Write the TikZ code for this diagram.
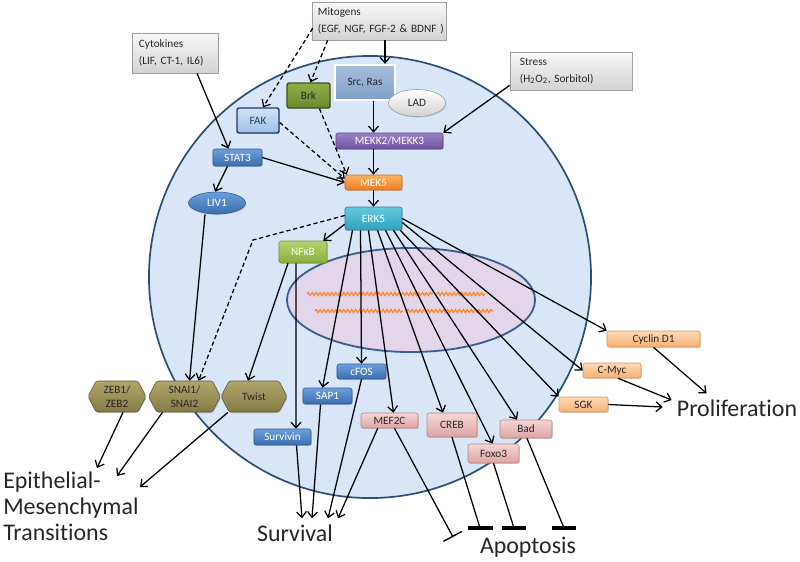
\documentclass[tikz,border=0pt]{standalone}
\usepackage{fontspec}
\setmainfont{Carlito}[Ligatures=NoCommon]
\usetikzlibrary{arrows.meta,calc,positioning,shapes.geometric,shapes.symbols,shadows,decorations.pathmorphing}

% colours of the cell
\definecolor{cellin}{HTML}{D8E6F7}
\definecolor{cellout}{HTML}{98B5DE}
\definecolor{cellrim}{HTML}{2C4D75}
\definecolor{nucfill}{HTML}{E4D6EA}
\definecolor{nucrim}{HTML}{3A5F8C}
\definecolor{wave}{HTML}{F58A2E}
% colours of the boxes
\definecolor{blueT}{HTML}{6E9FDB}\definecolor{blueB}{HTML}{3A6CB0}\definecolor{blueD}{HTML}{2E5A93}
\definecolor{oraT}{HTML}{FBB264}\definecolor{oraB}{HTML}{EC7D22}\definecolor{oraD}{HTML}{D06A14}
\definecolor{tealT}{HTML}{66C8DE}\definecolor{tealB}{HTML}{2FA1BE}\definecolor{tealD}{HTML}{2387A0}
\definecolor{purT}{HTML}{9C82C2}\definecolor{purB}{HTML}{7050A0}\definecolor{purD}{HTML}{5B3F88}
\definecolor{grnT}{HTML}{B4D46E}\definecolor{grnB}{HTML}{89AE3F}\definecolor{grnD}{HTML}{73952F}
\definecolor{brkT}{HTML}{8FAE48}\definecolor{brkB}{HTML}{6A892D}\definecolor{brkD}{HTML}{3F5220}
\definecolor{fakT}{HTML}{D2E3F5}\definecolor{fakB}{HTML}{9DBFE6}\definecolor{fakD}{HTML}{1F3B63}
\definecolor{srcT}{HTML}{A7BEDC}\definecolor{srcB}{HTML}{809FC8}
\definecolor{pinkT}{HTML}{F5D6D5}\definecolor{pinkB}{HTML}{DDA4A2}\definecolor{pinkD}{HTML}{B88583}
\definecolor{peachT}{HTML}{FDDAB8}\definecolor{peachB}{HTML}{F6B074}\definecolor{peachD}{HTML}{D99552}
\definecolor{hexT}{HTML}{B0A66C}\definecolor{hexB}{HTML}{847A44}\definecolor{hexD}{HTML}{5E5630}
\definecolor{grayT}{HTML}{F8F8F8}\definecolor{grayB}{HTML}{D2D2D2}\definecolor{grayD}{HTML}{9E9E9E}
\definecolor{ink}{HTML}{262626}

\pgfdeclareradialshading{cellshade}{\pgfpoint{0bp}{0bp}}{color(0bp)=(cellin); color(39bp)=(cellin); color(50bp)=(cellout)}

\tikzset{
  arr/.style={line width=0.9pt, -{Straight Barb[length=4pt,width=7pt]}},
  darr/.style={arr, dash pattern=on 3pt off 2pt},
  plain/.style={line width=0.9pt},
  barend/.style={line width=2.6pt},
  inhthin/.style={line width=0.9pt, -{Bar[width=15pt,line width=1pt]}},
  box/.style={rounded corners=1.5pt, inner sep=0pt, font=\fontsize{8}{9.6}\selectfont,
    drop shadow={opacity=0.3,shadow xshift=0.6pt,shadow yshift=-0.7pt}},
  bluebox/.style={box, top color=blueT, bottom color=blueB, draw=blueD, text=white},
  orabox/.style={box, top color=oraT, bottom color=oraB, draw=oraD, text=white},
  tealbox/.style={box, top color=tealT, bottom color=tealB, draw=tealD, text=white},
  purbox/.style={box, top color=purT, bottom color=purB, draw=purD, text=white},
  grnbox/.style={box, top color=grnT, bottom color=grnB, draw=grnD, text=white},
  brkbox/.style={box, top color=brkT, bottom color=brkB, draw=brkD, line width=1pt, text=ink},
  fakbox/.style={box, top color=fakT, bottom color=fakB, draw=fakD, line width=1pt, text=fakD},
  srcbox/.style={box, rounded corners=0pt, top color=srcT, bottom color=srcB, draw=white, line width=1.6pt, text=ink},
  pinkbox/.style={box, top color=pinkT, bottom color=pinkB, draw=pinkD, text=ink},
  peachbox/.style={box, top color=peachT, bottom color=peachB, draw=peachD, text=ink},
  hexbox/.style={box, shape=signal, signal to=west and east, signal pointer angle=125,
    top color=hexT, bottom color=hexB, draw=hexD, align=center, text=ink, minimum height=0.775cm},
  graybox/.style={rectangle, inner sep=0pt, top color=grayT, bottom color=grayB, draw=grayD,
    align=left, text=ink, font=\fontsize{8}{12}\selectfont,
    drop shadow={opacity=0.35,shadow xshift=1pt,shadow yshift=-1pt}},
  bigtext/.style={inner sep=0pt, text=ink, font=\fontsize{17}{18.4}\selectfont},
  dna/.style={wave, line width=0.9pt, decorate, decoration={snake, amplitude=1.1pt, segment length=2.8pt}}
}

\begin{document}
\begin{tikzpicture}[x=0.025cm, y=-0.025cm]
  \useasboundingbox (0,0) rectangle (800,561);

  % Draw the cell, the nucleus and its DNA
  \shadedraw[shading=cellshade, draw=cellrim, line width=1.2pt] (370,277) circle [radius=5.525cm];
  \draw[fill=nucfill, draw=nucrim, line width=1.3pt] (411,300) ellipse [x radius=3.1cm, y radius=1.3cm];
  \draw[dna] (307,294) -- (433,294);
  \draw[dna] (437,294) -- (485,294);
  \draw[dna] (315,311) -- (403,311);
  \draw[dna] (407,311) -- (493,311);

  % Signals from outside
  \node[graybox, minimum width=3.35cm, minimum height=0.95cm, text width=3.05cm] (mitogens) at (379,21) {Mitogens\\\mbox{(EGF, NGF, FGF-2 \& BDNF )}};
  \node[graybox, minimum width=2.15cm, minimum height=1cm, text width=1.8cm] (cytokines) at (175,53) {Cytokines\\(LIF, CT-1, IL6)};
  \node[graybox, minimum width=3.05cm, minimum height=0.95cm, text width=2.55cm] (stress) at (571,71) {Stress\\(H\textsubscript{2}O\textsubscript{2}, Sorbitol)};

  % Kinases in the cytoplasm
  \node[srcbox, minimum width=1.5cm, minimum height=0.875cm] (srcras) at (365,82.5) {Src, Ras};
  \node[box, ellipse, top color=white, bottom color=grayB, draw=grayD, text=ink, minimum width=1.425cm, minimum height=0.675cm] (lad) at (417,103) {LAD};
  \node[brkbox, minimum width=1.075cm, minimum height=0.625cm] (brk) at (308.5,95.5) {Brk};
  \node[fakbox, minimum width=1.05cm, minimum height=0.625cm] (fak) at (258,120.5) {FAK};
  \node[bluebox, minimum width=1.225cm, minimum height=0.425cm] (stat) at (237.5,157.5) {STAT3};
  \node[bluebox, ellipse, minimum width=1.425cm, minimum height=0.55cm] (liv) at (217,203) {LIV1};
  \node[purbox, minimum width=2.675cm, minimum height=0.4cm] (mekk) at (389.5,141) {MEKK2/MEKK3};
  \node[orabox, minimum width=1.425cm, minimum height=0.375cm] (mek) at (373.5,182.5) {MEK5};
  \node[tealbox, minimum width=1.425cm, minimum height=0.575cm] (erk) at (373.5,218.5) {ERK5};
  \node[grnbox, minimum width=1.2cm, minimum height=0.55cm] (nfkb) at (303,252) {NFκB};

  % Transcription factors and targets
  \node[hexbox, minimum width=1.45cm] (zeb) at (117,396.5) {ZEB1/\\ZEB2};
  \node[hexbox, minimum width=1.8cm] (snai) at (184.5,396.5) {SNAI1/\\SNAI2};
  \node[hexbox, minimum width=1.65cm] (twist) at (254,396.5) {Twist};
  \node[bluebox, minimum width=1.425cm, minimum height=0.4cm] (survivin) at (282.5,437) {Survivin};
  \node[bluebox, minimum width=1.225cm, minimum height=0.4cm] (sap) at (327.5,396) {SAP1};
  \node[bluebox, minimum width=1.225cm, minimum height=0.375cm] (cfos) at (361.5,371.5) {cFOS};
  \node[pinkbox, minimum width=1.425cm, minimum height=0.375cm] (mef) at (389.5,420.5) {MEF2C};
  \node[pinkbox, minimum width=1.25cm, minimum height=0.6cm] (creb) at (452,425) {CREB};
  \node[pinkbox, minimum width=1.3cm, minimum height=0.45cm] (bad) at (526,429) {Bad};
  \node[pinkbox, minimum width=1.275cm, minimum height=0.475cm] (foxo) at (493.5,453.5) {Foxo3};
  \node[peachbox, minimum width=1.225cm, minimum height=0.375cm] (sgk) at (583.5,404.5) {SGK};
  \node[peachbox, minimum width=1.45cm, minimum height=0.375cm] (cmyc) at (612,370.5) {C-Myc};
  \node[peachbox, minimum width=2.325cm, minimum height=0.4cm] (cyclin) at (653.5,339) {Cyclin D1};

  % Outcomes
  \node[bigtext, anchor=west, align=left] (emt) at (3,506) {Epithelial-\\Mesenchymal\\Transitions};
  \node[bigtext] (survival) at (295,533) {Survival};
  \node[bigtext] (apoptosis) at (528,547) {Apoptosis};
  \node[bigtext] (prolif) at (737,408) {Proliferation};
  \coordinate (kink) at (253,240);
  \coordinate (emtA) at (97,468);
  \coordinate (emtB) at (117,476);
  \coordinate (emtC) at (140,487);
  \coordinate (inh1) at (453,537);
  \coordinate (inh2) at (480,528);
  \coordinate (inh3) at (514,528);
  \coordinate (inh4) at (564,528);

  % Signals into the cell
  \draw[arr] ($(mitogens.south)+(6,0)$) -- ($(srcras.north)+(20,0)$);
  \draw[darr] ($(mitogens.south west)+(1,-12)$) -- ($(fak.north)+(5,0)$);
  \draw[darr] ($(mitogens.south west)+(16,0)$) -- ($(brk.north)+(2,0)$);
  \draw[arr] ($(cytokines.south)+(22,0)$) -- ($(stat.north)+(-9,0)$);
  \draw[arr] ($(stress.south west)+(0,-5)$) -- (mekk.north east);

  % The MEK5/ERK5 cascade
  \draw[arr] (srcras.south -| mek.north) -- (mekk.north -| mek.north);
  \draw[arr] (mekk.south -| mek.north) -- (mek.north);
  \draw[arr] (mek.south) -- (erk.north);
  \draw[darr] ($(fak.east)+(0,2)$) -- ($(mek.west)+(0,-4)$);
  \draw[darr] ($(brk.south)+(11,0)$) -- ($(mek.north west)+(2,0)$);
  \draw[arr] (stat.east) -- (mek.west);
  \draw[arr] ($(stat.south)+(-10,0)$) -- ($(liv.north)+(-2,0)$);
  \draw[arr] ($(liv.south)+(-12,0)$) -- ($(snai.north)+(5,0)$);
  \draw[darr] ($(erk.west)+(0,-3)$) -- (kink) -- ($(snai.north)+(14,0)$);
  \draw[arr] ($(erk.south west)+(0,-6)$) -- ($(nfkb.north east)+(-4,0)$);
  \draw[arr] ($(nfkb.south)+(-15,0)$) -- ($(twist.north)+(-6,0)$);
  \draw[arr] ($(nfkb.south)+(-7,0)$) -- ($(survivin.north)+(13.5,0)$);

  % ERK5 targets
  \draw[arr] ($(erk.south)+(-21,0)$) -- ($(sap.north)+(-5,0)$);
  \draw[arr] ($(erk.south)+(-13,0)$) -- (cfos.north);
  \draw[arr] ($(erk.south)+(-5,0)$) -- ($(mef.north)+(4,0)$);
  \draw[arr] ($(erk.south)+(4,0)$) -- ($(creb.north)+(-9,0)$);
  \draw[arr] ($(erk.south)+(12,0)$) -- ($(foxo.north)+(-1,0)$);
  \draw[arr] ($(erk.south)+(20,0)$) -- ($(bad.north)+(-9,0)$);
  \draw[arr] ($(erk.south east)+(-2,0)$) -- (sgk.north west);
  \draw[arr] ($(erk.east)+(0,4)$) -- (cmyc.west);
  \draw[arr] (erk.east) -- (cyclin.north west);

  % Outcomes
  \draw[arr] ($(zeb.south)+(6,0)$) -- (emtA);
  \draw[arr] ($(snai.south)+(-22,0)$) -- (emtB);
  \draw[arr] ($(twist.south)+(-26,0)$) -- (emtC);
  \draw[arr] ($(survivin.south)+(14,0)$) -- ($(survival.north)+(7,-6)$);
  \draw[arr] ($(sap.south)+(-7,0)$) -- ($(survival.north)+(17,-6)$);
  \draw[arr] (cfos.south) -- ($(survival.north)+(33,-6)$);
  \draw[arr] ($(mef.south west)+(17,0)$) -- ($(survival.north)+(43,-6)$);
  \draw[inhthin] ($(mef.south)+(5,0)$) -- (inh1);
  \draw[plain] (creb.south) -- (inh2);
  \draw[plain] (foxo.south) -- (inh3);
  \draw[plain] ($(bad.south)+(1,0)$) -- (inh4);
  \draw[barend] ($(inh2)+(-12,0)$) -- ($(inh2)+(13,0)$);
  \draw[barend] ($(inh3)+(-12,0)$) -- ($(inh3)+(12,0)$);
  \draw[barend] ($(inh4)+(-12,0)$) -- ($(inh4)+(12,0)$);
  \draw[arr] (cyclin.south) -- ($(prolif.north west)+(30,-6)$);
  \draw[arr] ($(cmyc.south)+(6,0)$) -- ($(prolif.west)+(-5,-8)$);
  \draw[arr] (sgk.east) -- ($(prolif.west)+(-14,-1)$);
\end{tikzpicture}
\end{document}
